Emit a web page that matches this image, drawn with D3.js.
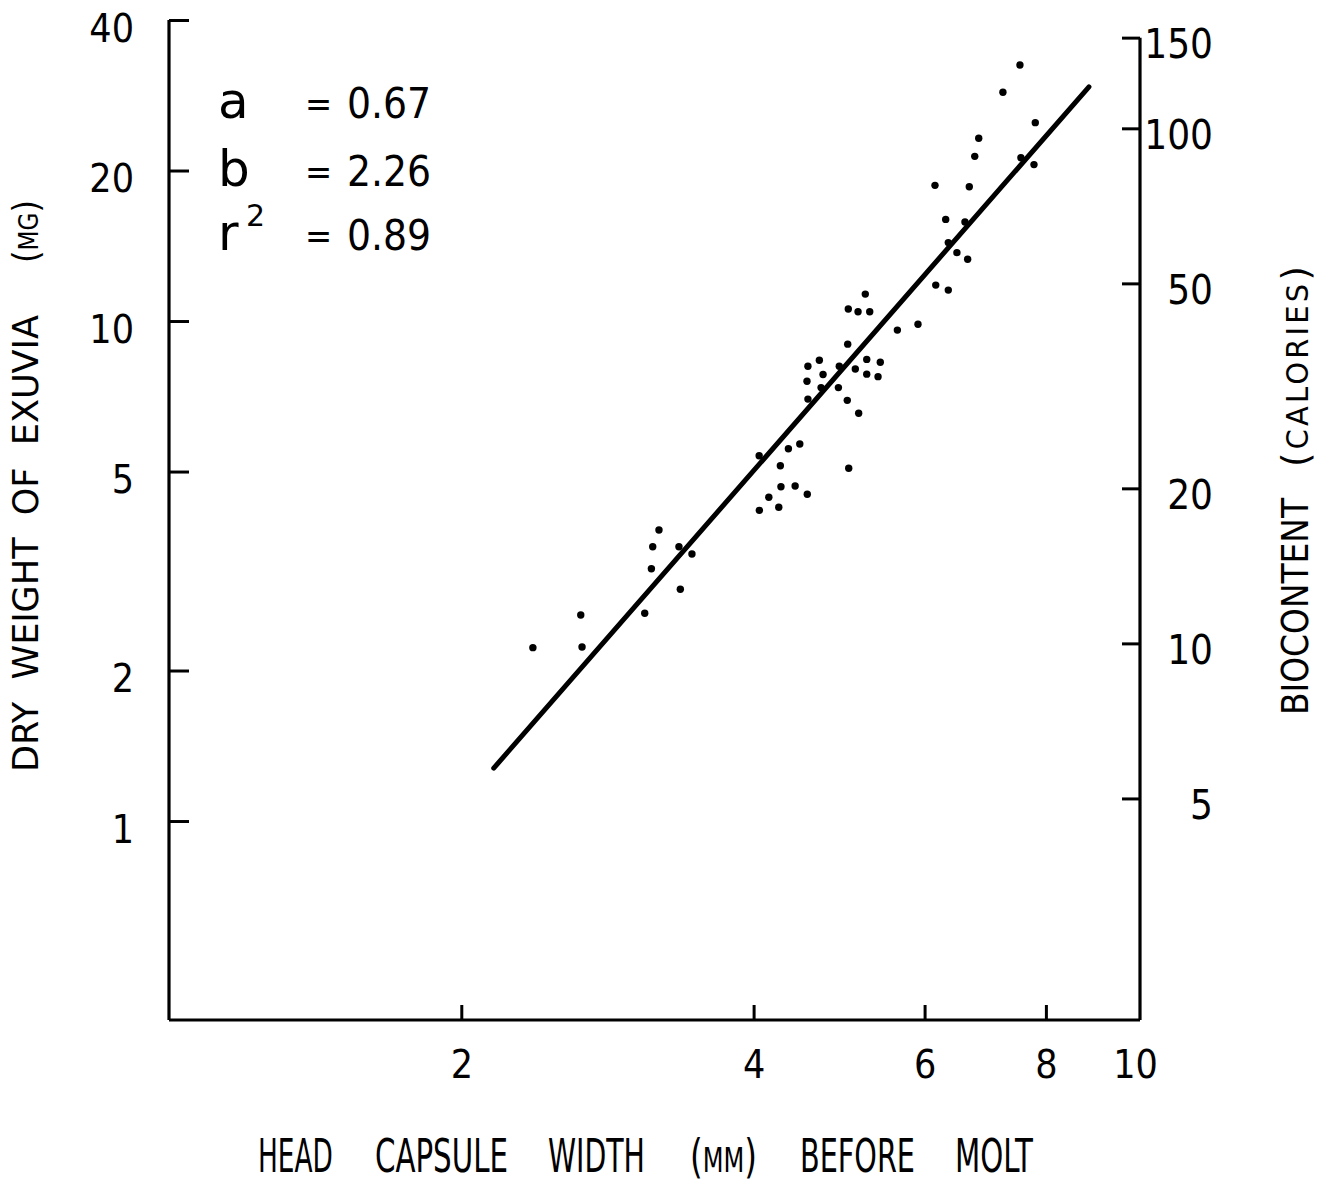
<!DOCTYPE html>
<html>
<head>
<meta charset="utf-8">
<script src="https://cdn.jsdelivr.net/npm/d3@7"></script>
<style>
  html, body { margin: 0; padding: 0; background: #fff; }
  svg { display: block; }
  .narrow { font-family: "Liberation Sans Narrow", "DejaVu Sans Condensed", "Liberation Sans", sans-serif; }
</style>
</head>
<body>
<svg id="chart" width="1333" height="1182"></svg>
<script>
// ---- data ----
const headWidth = [2.37, 2.655, 2.663, 3.196, 3.149, 3.351, 3.456, 3.139, 3.362, 3.09,
  5.213, 5.007, 5.124, 5.268, 6.161, 5.907, 5.625, 5.0, 4.675, 4.55,
  4.901, 5.091, 5.231, 5.402, 5.231, 5.373, 4.716, 4.54, 4.694, 4.891,
  4.55, 4.995, 5.132, 4.463, 4.344, 4.053, 4.262, 5.012, 4.268, 4.414,
  4.147, 4.543, 4.055, 4.246,
  7.522, 7.225, 7.801, 6.822, 6.758, 7.54, 7.777, 6.15, 6.671, 6.308,
  6.603, 6.347, 6.478, 6.645, 6.347];
const dryWeight = [2.222, 2.582, 2.228, 3.819, 3.537, 3.537, 3.42, 3.196, 2.907, 2.603,
  11.32, 10.57, 10.44, 10.44, 11.8, 9.85, 9.59, 8.99, 8.35, 8.12,
  8.12, 8.02, 8.38, 8.27, 7.83, 7.74, 7.82, 7.58, 7.36, 7.36,
  6.98, 6.94, 6.54, 5.675, 5.554, 5.378, 5.136, 5.075, 4.663, 4.677,
  4.441, 4.503, 4.182, 4.241,
  32.51, 28.67, 24.93, 23.2, 21.35, 21.22, 20.55, 18.68, 18.56, 15.97,
  15.78, 14.35, 13.7, 13.29, 11.53];
const fitLineX = [2.16, 8.86];
const fitLineY = [1.276, 29.4];
const xTickValues = [2, 4, 6, 8, 10];
const yTickValues = [1, 2, 5, 10, 20, 40];
const calTickValues = [5, 10, 20, 50, 100, 150];
const statLabels = ["a", "b", "r"];
const statValues = ["0.67", "2.26", "0.89"];
const xTitleWords = ["HEAD", "CAPSULE", "WIDTH", "(MM)", "BEFORE", "MOLT"];

(function () {
// ---- layout ----
const svg = d3.select("#chart");
const pL = 169, pR = 1140, pT = 20, pB = 1020;

const x = d3.scaleLog().domain([1, 10]).range([pL, pR]);
const y = d3.scaleLog().domain([0.4, 40]).range([pB, pT]);
const yCal = d3.scaleLog().domain([1.857, 162.3]).range([pB, pT]);

const ink = "#000";

// left axis (inward ticks)
const gL = svg.append("g").attr("transform", `translate(${pL},0)`)
  .call(d3.axisLeft(y).tickValues(yTickValues).tickFormat(d3.format("d"))
    .tickSizeInner(-20).tickSizeOuter(0).tickPadding(35));
gL.select(".domain").remove();
gL.selectAll(".tick line").attr("stroke", ink).attr("stroke-width", 3);
gL.selectAll(".tick text").attr("class", "narrow").attr("font-size", 39)
  .attr("fill", ink).attr("dy", "0.55em");

// right axis (inward ticks)
const gR = svg.append("g").attr("transform", `translate(${pR},0)`)
  .call(d3.axisRight(yCal).tickValues(calTickValues).tickFormat(d3.format("d"))
    .tickSizeInner(-18).tickSizeOuter(0).tickPadding(73));
gR.select(".domain").remove();
gR.selectAll(".tick line").attr("stroke", ink).attr("stroke-width", 3);
gR.selectAll(".tick text").attr("class", "narrow").attr("font-size", 40)
  .attr("fill", ink).attr("text-anchor", "end").attr("dy", "0.5em");

// bottom axis (inward ticks)
const gB = svg.append("g").attr("transform", `translate(0,${pB})`)
  .call(d3.axisBottom(x).tickValues(xTickValues).tickFormat(d3.format("d"))
    .tickSizeInner(-15).tickSizeOuter(0).tickPadding(30));
gB.select(".domain").remove();
gB.selectAll(".tick line").attr("stroke", ink).attr("stroke-width", 3);
gB.selectAll(".tick text").attr("class", "narrow").attr("font-size", 39).attr("fill", ink);
gB.selectAll(".tick").filter(d => d === 10).select("line").remove();
gB.selectAll(".tick").filter(d => d === 10).select("text").attr("dx", -5);

// axis frame lines
const frame = svg.append("g").attr("stroke", ink).attr("stroke-width", 3.2).attr("fill", "none");
frame.append("line").attr("x1", pL).attr("x2", pL).attr("y1", y(40)).attr("y2", y(0.4));
frame.append("line").attr("x1", pL).attr("x2", pR).attr("y1", y(0.4)).attr("y2", y(0.4));
frame.append("line").attr("x1", pR).attr("x2", pR).attr("y1", yCal(150)).attr("y2", y(0.4));

// regression line
svg.append("line")
  .attr("x1", x(fitLineX[0])).attr("y1", y(fitLineY[0]))
  .attr("x2", x(fitLineX[1])).attr("y2", y(fitLineY[1]))
  .attr("stroke", ink).attr("stroke-width", 5).attr("stroke-linecap", "round");

// points
svg.append("g").selectAll("circle")
  .data(headWidth.map((w, i) => [w, dryWeight[i]]))
  .join("circle")
  .attr("cx", d => x(d[0])).attr("cy", d => y(d[1]))
  .attr("r", 3.7).attr("fill", ink);

// statistics block
const statY = [118, 186, 250];
const st = svg.append("g").attr("fill", ink);
statLabels.forEach((lab, i) => {
  st.append("text").attr("x", 218).attr("y", statY[i])
    .attr("font-family", "DejaVu Sans, sans-serif").attr("font-size", 50).text(lab);
  st.append("text").attr("x", 305).attr("y", statY[i] - 2).attr("class", "narrow")
    .attr("font-size", 36).text("=");
  st.append("text").attr("x", 347).attr("y", statY[i]).attr("class", "narrow")
    .attr("font-size", 42).text(statValues[i]);
});
st.append("text").attr("x", 246).attr("y", 226).attr("font-family", "DejaVu Sans, sans-serif")
  .attr("font-size", 30).text("2");

// helper: squeeze a text horizontally (in its own frame) to a target length
function squeeze(g, target) {
  const t = g.select("text").node();
  const w = t.getComputedTextLength();
  if (w > 0) d3.select(t).attr("transform", `scale(${target / w},1)`);
}

// y-axis title (left)
const yt = svg.append("g").attr("transform", "translate(38,772) rotate(-90)").attr("fill", ink);
const yt1 = yt.append("g");
yt1.append("text").attr("class", "narrow").attr("font-size", 36)
  .style("white-space", "pre").text("DRY  WEIGHT  OF  EXUVIA");
squeeze(yt1, 457);
const yt2 = yt.append("g").attr("transform", "translate(509,0)");
const ymg = yt2.append("text").attr("class", "narrow");
ymg.append("tspan").attr("font-size", 36).text("(");
ymg.append("tspan").attr("font-size", 26).text("MG");
ymg.append("tspan").attr("font-size", 36).text(")");
squeeze(yt2, 63);

// y-axis title (right)
const rt = svg.append("g").attr("transform", "translate(1308,715) rotate(-90)").attr("fill", ink);
const rt1 = rt.append("g");
rt1.append("text").attr("class", "narrow").attr("font-size", 38).text("BIOCONTENT");
squeeze(rt1, 217);
const rt2 = rt.append("g").attr("transform", "translate(248,0)");
const rcal = rt2.append("text").attr("class", "narrow").style("letter-spacing", "3px");
rcal.append("tspan").attr("font-size", 38).text("(");
rcal.append("tspan").attr("font-size", 30).text("CALORIES");
rcal.append("tspan").attr("font-size", 38).text(")");
squeeze(rt2, 204);

// x-axis title, one text per word (wide typewriter spacing)
const wordStart = [258, 375, 548, 690, 800, 955];
const wordLen = [75, 133, 97, 67, 115, 78];
xTitleWords.forEach((w, i) => {
  const g = svg.append("g").attr("transform", `translate(${wordStart[i]},1172)`).attr("fill", ink);
  const t = g.append("text").attr("class", "narrow");
  if (w === "(MM)") {
    t.append("tspan").attr("font-size", 46).text("(");
    t.append("tspan").attr("font-size", 34).text("MM");
    t.append("tspan").attr("font-size", 46).text(")");
  } else {
    t.attr("font-size", 46).text(w);
  }
  squeeze(g, wordLen[i]);
});
})();
</script>
</body>
</html>
